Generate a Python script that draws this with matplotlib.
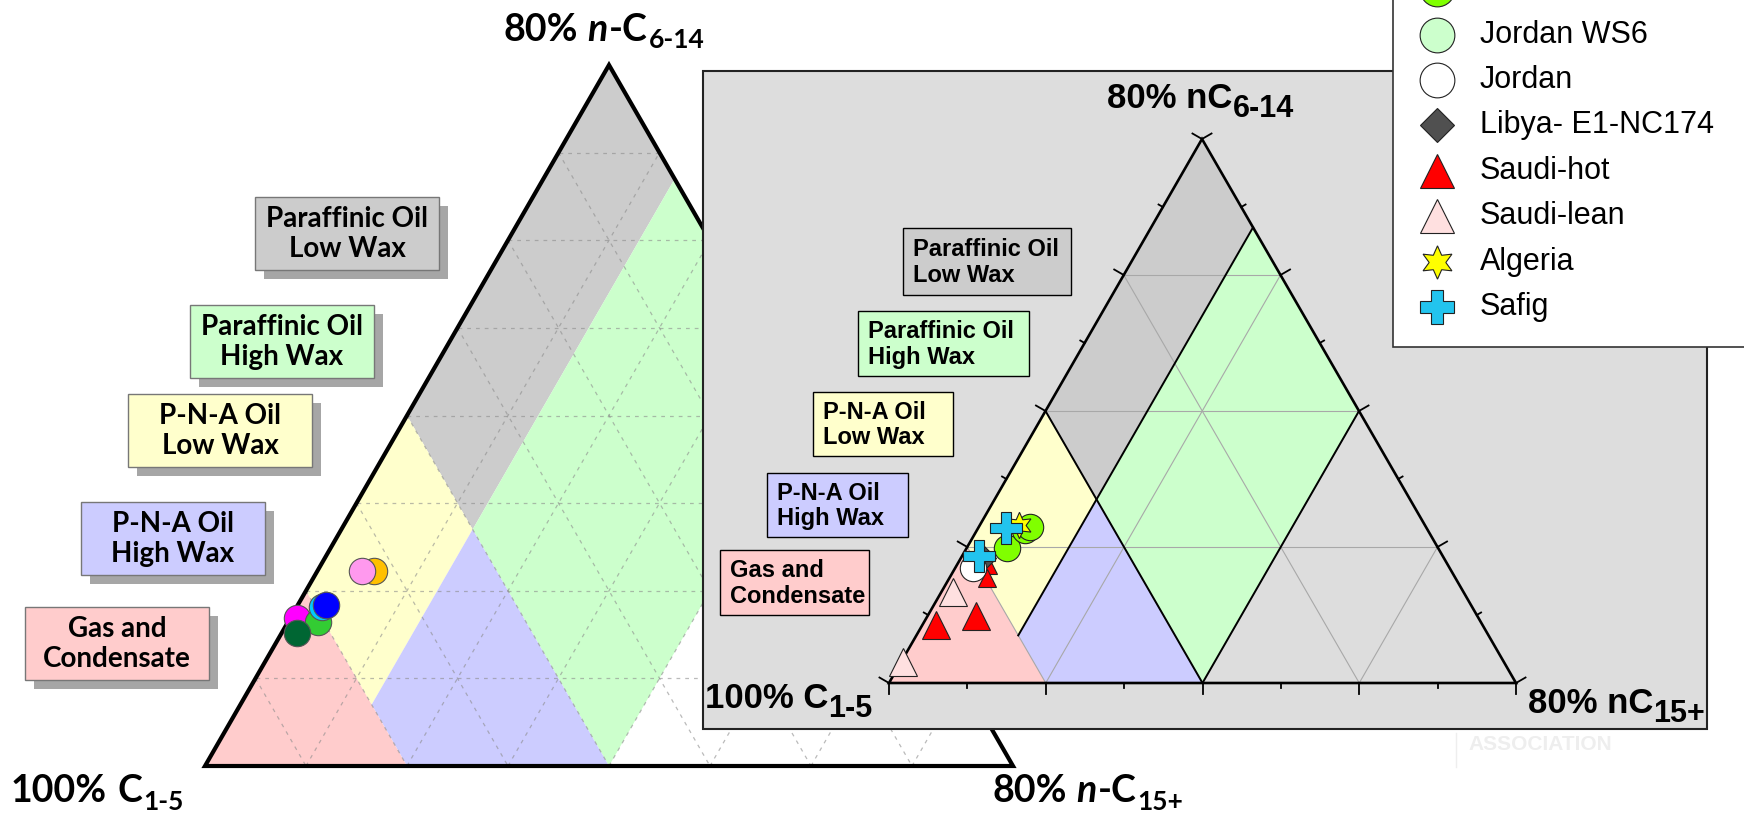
import matplotlib
matplotlib.use("Agg")
import matplotlib.pyplot as plt
from matplotlib.patches import Polygon, Rectangle
import numpy as np

# ---------------- data ----------------
# all compositions as (C6-14 %, C15+ %); C1-5 is the rest
# corners: 100% C1-5 (bottom left), 80% nC6-14 (top), 80% nC15+ (bottom right)
field_labels = ["Paraffinic Oil\nLow Wax", "Paraffinic Oil\nHigh Wax",
                "P-N-A Oil\nLow Wax", "P-N-A Oil\nHigh Wax", "Gas and\nCondensate"]
field_colors = ["#CCCCCC", "#CCFFCC", "#FFFFCC", "#CCCCFF", "#FFCCCC"]
par_low_field = [(40, 0), (80, 0), (67, 13), (27, 13)]
par_high_field = [(27, 13), (67, 13), (40, 40), (0, 40)]
pna_low_field = [(20, 0), (40, 0), (27, 13), (7, 13)]
pna_high_field = [(7, 13), (27, 13), (0, 40), (0, 20)]
gas_field = [(0, 0), (20, 0), (0, 20)]
fields = [par_low_field, par_high_field, pna_low_field, pna_high_field, gas_field]

# left diagram samples
left_c614 = [22.2, 22.2, 16.9, 16.4, 18.2, 18.4, 15.2]
left_c15p = [5.6, 4.4, 0.7, 3.0, 2.5, 2.8, 1.5]
left_colors = ["#FFC000", "#FF99EE", "#FF00FF", "#33CC33", "#00CCFF", "#0000FF", "#006633"]

# inset samples
saudi_lean_c614 = [13.4, 3.1]
saudi_lean_c15p = [1.5, 0.3]
saudi_hot_c614 = [8.5, 9.8, 17.4, 15.4]
saudi_hot_c15p = [1.7, 6.2, 3.9, 4.8]
libya_c614 = [18.4]
libya_c15p = [2.8]
jordan_c614 = [16.9]
jordan_c15p = [2.3]
jordan_ws6_c614 = []
jordan_ws6_c15p = []
jordan_ds14_c614 = [19.8, 22.5, 22.9]
jordan_ds14_c15p = [5.2, 6.1, 6.5]
algeria_c614 = [23.2]
algeria_c15p = [5.0]
safig_c614 = [18.7, 22.8]
safig_c15p = [2.2, 3.6]

legend_labels = ["Jordan DS14", "Jordan WS6", "Jordan", "Libya- E1-NC174",
                 "Saudi-hot", "Saudi-lean", "Algeria", "Safig"]

# ---------------- layout ----------------
W, H = 1744, 814
plt.rcParams["font.family"] = ["Liberation Sans", "DejaVu Sans"]
fig = plt.figure(figsize=(W / 100, H / 100), dpi=100)
ax = fig.add_axes([0, 0, 1, 1])
ax.set_xlim(0, W)
ax.set_ylim(H, 0)
ax.axis("off")
renderer = fig.canvas.get_renderer()

left_frame = ((205, 766), (609, 65), (1013, 766))
inset_frame = ((889, 683), (1202, 139), (1516, 683))


def tern(c614, c15p, frame):
    (x0, y0), (xa, ya), (xb, yb) = frame
    u = np.asarray(c614, dtype=float) / 80.0
    v = np.asarray(c15p, dtype=float) / 80.0
    return x0 + u * (xa - x0) + v * (xb - x0), y0 + u * (ya - y0) + v * (yb - y0)


def poly_xy(verts, frame):
    xs, ys = tern([p[0] for p in verts], [p[1] for p in verts], frame)
    return np.column_stack([xs, ys])


def runs_text(x, y, runs, z=6):
    # text pieces placed one after another (for italic n and subscripts)
    for s, dy, gap, kw in runs:
        t = ax.text(x, y + dy, s, ha="left", va="baseline", zorder=z, **kw)
        x += t.get_window_extent(renderer).width + gap


# ---------------- left diagram ----------------
for verts, col in zip(fields, field_colors):
    ax.add_patch(Polygon(poly_xy(verts, left_frame), closed=True, fc=col, ec="none", zorder=1))

for k in range(10, 80, 10):
    for a, b in [((k, 0), (k, 80 - k)), ((0, k), (80 - k, k)), ((k, 0), (0, k))]:
        xs, ys = tern([a[0], b[0]], [a[1], b[1]], left_frame)
        ax.plot(xs, ys, color="#8C8C8C", lw=0.9, dashes=(3, 4), alpha=0.6, zorder=2)

ax.add_patch(Polygon(poly_xy([(0, 0), (80, 0), (0, 80)], left_frame), closed=True,
                     fc="none", ec="black", lw=3.0, joinstyle="miter", zorder=3))

lx, ly = tern(left_c614, left_c15p, left_frame)
for x, y, c in zip(lx, ly, left_colors):
    ax.plot(x, y, "o", ms=19, mfc=c, mec="#555555", mew=0.8, zorder=4)

left_boxes = [(255, 197), (190, 305), (128, 394), (81, 502), (25, 607)]
for (bx, by), lab, col in zip(left_boxes, field_labels, field_colors):
    ax.add_patch(Rectangle((bx + 9, by + 9), 184, 73, fc="#A6A6A6", ec="none", zorder=5))
    ax.add_patch(Rectangle((bx, by), 184, 73, fc=col, ec="#777777", lw=1, zorder=5))
    ax.text(bx + 92, by + 37, lab, ha="center", va="center", fontsize=20,
            family="Lato", weight="bold", linespacing=1.2, zorder=6)

big = dict(fontsize=27, family="Lato", weight="bold")
bigit = dict(fontsize=27, family="Lato", weight="bold", style="italic")
small = dict(fontsize=19, family="Lato", weight="bold")
runs_text(503, 41, [("80%", 0, 10, big), ("n", 0, 1, bigit), ("-C", 0, 1, big), ("6-14", 7, 0, small)])
runs_text(11, 802, [("100%", 0, 10, big), ("C", 0, 1, big), ("1-5", 8, 0, small)])
runs_text(992, 802, [("80%", 0, 10, big), ("n", 0, 1, bigit), ("-C", 0, 1, big), ("15+", 8, 0, small)])

ax.text(1468, 750, "ASSOCIATION", fontsize=15, weight="bold", color="#EEEEEE", va="baseline", zorder=2)
ax.plot([1456, 1456], [733, 767], color="#EEEEEE", lw=1, zorder=2)

# ---------------- inset diagram ----------------
ax.add_patch(Rectangle((703, 71), 1004, 658, fc="#DDDDDD", ec="#222222", lw=1.5, zorder=10))

for verts, col in zip(fields, field_colors):
    ax.add_patch(Polygon(poly_xy(verts, inset_frame), closed=True, fc=col, ec="none", zorder=11))

for k in (20, 40, 60):
    for a, b in [((k, 0), (k, 80 - k)), ((0, k), (80 - k, k)), ((k, 0), (0, k))]:
        xs, ys = tern([a[0], b[0]], [a[1], b[1]], inset_frame)
        ax.plot(xs, ys, color="#A8A8A8", lw=0.8, zorder=12)

for a, b in [((40, 0), (0, 40)), ((0, 40), (40, 40)), ((7, 13), (67, 13))]:
    xs, ys = tern([a[0], b[0]], [a[1], b[1]], inset_frame)
    ax.plot(xs, ys, color="black", lw=1.4, zorder=13)

ax.add_patch(Polygon(poly_xy([(0, 0), (80, 0), (0, 80)], inset_frame), closed=True,
                     fc="none", ec="black", lw=1.9, zorder=13))

# ticks every 10 %, outward
(bx0, by0), (ax0, ay0), (rx0, ry0) = inset_frame
nl = np.array([-(ay0 - by0), (ax0 - bx0)]) * -1
nl = nl / np.hypot(*nl)
nr = np.array([(ry0 - ay0), -(rx0 - ax0)])
nr = nr / np.hypot(*nr)
for k in range(0, 90, 10):
    ln = 11 if k % 20 == 0 else 5
    for (c6, c15), n in [((0, k), np.array([0, 1])), ((k, 0), nl), ((80 - k, k), nr)]:
        px, py = tern([c6], [c15], inset_frame)
        ax.plot([px[0], px[0] + n[0] * ln], [py[0], py[0] + n[1] * ln],
                color="black", lw=1.3, zorder=13)

inset_boxes = [(903, 228, 168, 67), (858, 311, 171, 65), (813, 392, 140, 64),
               (767, 473, 141, 64), (720, 550, 149, 65)]
for (bx, by, bw, bh), lab, col in zip(inset_boxes, field_labels, field_colors):
    ax.add_patch(Rectangle((bx, by), bw, bh, fc=col, ec="black", lw=1, zorder=14))
    ax.text(bx + 10, by + bh / 2 + 1, lab, ha="left", va="center", fontsize=17,
            weight="bold", linespacing=1.15, zorder=14)

ib = dict(fontsize=25, weight="bold")
isub = dict(fontsize=22, weight="bold")
runs_text(1107, 108, [("80% nC", 0, 0, ib), ("6-14", 9, 0, isub)], z=14)
runs_text(705, 708, [("100% C", 0, 0, ib), ("1-5", 9, 0, isub)], z=14)
runs_text(1528, 713, [("80% nC", 0, 0, ib), ("15+", 9, 0, isub)], z=14)

# series styles: marker, face, size
series = [
    (saudi_lean_c614, saudi_lean_c15p, "^", "#FFE0E0", [20, 20]),
    (saudi_hot_c614, saudi_hot_c15p, "^", "#FF0000", [20, 20, 13, 13]),
    (libya_c614, libya_c15p, "D", "#505050", [13]),
    (jordan_c614, jordan_c15p, "o", "#FFFFFF", [19]),
    (jordan_ws6_c614, jordan_ws6_c15p, "o", "#CCFFCC", []),
    (jordan_ds14_c614, jordan_ds14_c15p, "o", "#80FF00", [19, 19, 19]),
    (algeria_c614, algeria_c15p, (6, 1, 0), "#FFFF00", [19]),
    (safig_c614, safig_c15p, "P", "#22C4EE", [23, 23]),
]
for c6, c15, mk, col, sizes in series:
    xs, ys = tern(c6, c15, inset_frame)
    for x, y, s in zip(xs, ys, sizes):
        ax.plot(x, y, marker=mk, ms=s, mfc=col, mec="#222222", mew=0.8, ls="none", zorder=15)

# legend (top cut by the figure edge, as in the source)
ax.add_patch(Rectangle((1393, -30), 400, 377, fc="white", ec="#333333", lw=1.2, zorder=20))
leg_style = [("o", "#80FF00", 25), ("o", "#CCFFCC", 25), ("o", "#FFFFFF", 25), ("D", "#505050", 17),
             ("^", "#FF0000", 25), ("^", "#FFE0E0", 25), ((6, 1, 0), "#FFFF00", 24), ("P", "#22C4EE", 25)]
for i, (lab, (mk, col, s)) in enumerate(zip(legend_labels, leg_style)):
    y = 307 - (len(legend_labels) - 1 - i) * 45.4
    ax.plot(1437, y, marker=mk, ms=s, mfc=col, mec="#222222", mew=0.8, zorder=21)
    ax.text(1480, y, lab, fontsize=22, va="center", ha="left", zorder=21)

fig.savefig("out.png", dpi=100)
